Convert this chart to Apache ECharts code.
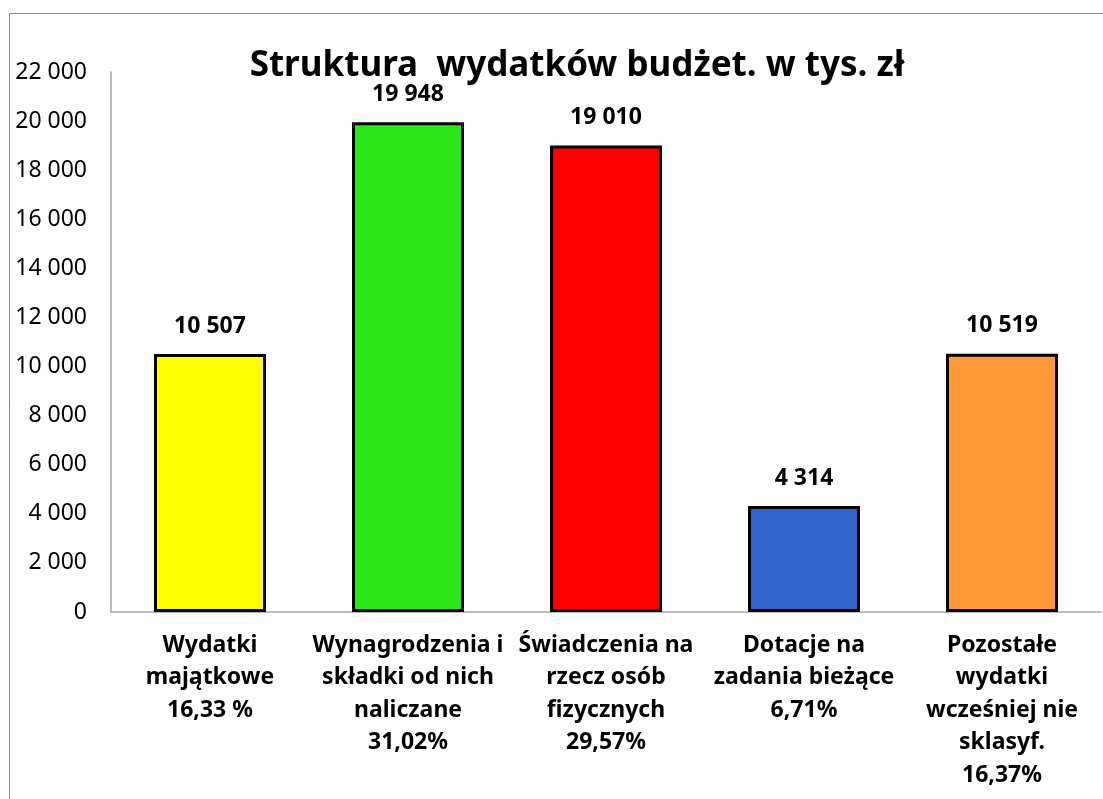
<!DOCTYPE html>
<html>
<head>
<meta charset="utf-8">
<script src="https://cdn.jsdelivr.net/npm/echarts@6/dist/echarts.min.js"></script>
<style>
html,body{margin:0;padding:0;background:#fff;}
#main{width:1103px;height:799px;}
</style>
</head>
<body>
<div id="main"></div>
<script>
var categories = [
    'Wydatki\nmajątkowe\n16,33 %',
    'Wynagrodzenia i\nskładki od nich\nnaliczane\n31,02%',
    'Świadczenia na\nrzecz osób\nfizycznych\n29,57%',
    'Dotacje na\nzadania bieżące\n6,71%',
    'Pozostałe\nwydatki\nwcześniej nie\nsklasyf.\n16,37%'
];
var values = [10507, 19948, 19010, 4314, 10519];
var barColors = ['#ffff00', '#2de61a', '#ff0000', '#3366cc', '#ff9a3a'];

function fmt(v) {
    return String(v).replace(/\B(?=(\d{3})+(?!\d))/g, ' ');
}

var myChart = echarts.init(document.getElementById('main'));
var option = {
    animation: false,
    backgroundColor: '#fff',
    textStyle: {fontFamily: 'Noto Sans'},
    title: {
        text: 'Struktura  wydatków budżet. w tys. zł',
        left: 572,
        top: 44,
        textAlign: 'center',
        textStyle: {
            fontFamily: 'Noto Sans',
            fontSize: 35,
            fontWeight: 'bold',
            color: '#000'
        }
    },
    graphic: [{
        type: 'rect',
        shape: {x: 9.5, y: 13.5, width: 1110, height: 800},
        style: {fill: 'none', stroke: '#8c8c8c', lineWidth: 1},
        silent: true
    }],
    grid: {left: 111, right: 2, top: 72, bottom: 187, containLabel: false, outerBoundsMode: 'none'},
    xAxis: {
        type: 'category',
        data: categories,
        axisTick: {show: false},
        axisLine: {lineStyle: {color: '#a6a6a6', width: 1.5}},
        axisLabel: {
            interval: 0,
            margin: 17,
            color: '#000',
            fontFamily: 'Noto Sans',
            fontWeight: 'bold',
            fontSize: 23,
            lineHeight: 32.5
        }
    },
    yAxis: {
        type: 'value',
        min: 0,
        max: 22000,
        interval: 2000,
        splitLine: {show: false},
        axisTick: {show: false},
        axisLine: {show: true, lineStyle: {color: '#a6a6a6', width: 1.5}},
        axisLabel: {
            margin: 24,
            color: '#000',
            fontFamily: 'Noto Sans',
            fontSize: 23,
            formatter: fmt
        }
    },
    series: [{
        type: 'bar',
        data: values.map(function (v, i) {
            return {value: v, itemStyle: {color: barColors[i]}};
        }),
        barWidth: 112,
        itemStyle: {borderColor: '#000', borderWidth: 3},
        label: {
            show: true,
            position: 'top',
            distance: 16,
            color: '#000',
            fontFamily: 'Noto Sans',
            fontWeight: 'bold',
            fontSize: 23,
            lineHeight: 24,
            formatter: function (p) { return fmt(p.value); }
        }
    }]
};
myChart.setOption(option);
</script>
</body>
</html>
